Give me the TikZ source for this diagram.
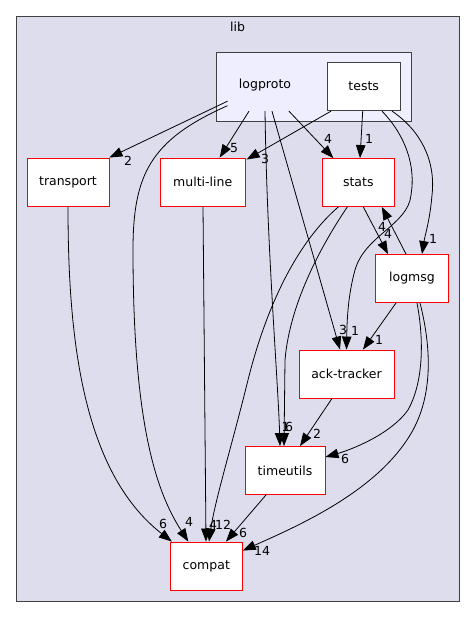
\documentclass[tikz,border=0pt]{standalone}
\usepackage{fontspec}
\setmainfont{DejaVu Sans}
\usetikzlibrary{arrows.meta,calc}
\definecolor{libfill}{HTML}{DDDDEE}
\definecolor{lpfill}{HTML}{EEEEFF}
\definecolor{frame}{HTML}{404040}
\begin{document}
\begin{tikzpicture}[x=1pt,y=-1pt,
  every node/.style={font=\fontsize{12.5}{15}\selectfont},
  dirbox/.style={draw=red, fill=white, line width=0.9pt, minimum height=48pt, inner sep=0pt},
  testbox/.style={draw=frame, fill=white, line width=0.9pt, minimum height=48pt, minimum width=73pt, inner sep=0pt},
  dep/.style={draw=black, line width=0.8pt, -{Triangle[length=13pt,width=9.5pt]}},
  lbl/.style={inner sep=0pt}]
\useasboundingbox (0,0) rectangle (475,617);
% clusters
\draw[frame, fill=libfill, line width=0.9pt] (16,16) rectangle (459,601);
\node[lbl] (libtitle) at (237.5,27) {lib};
\draw[frame, fill=lpfill, line width=0.9pt] (216,52) rectangle (411,121);
% nodes
\node[minimum width=80pt, minimum height=52pt, inner sep=0pt] (L) at (265,85) {logproto};
\node[testbox] (T) at (363.7,86.7) {tests};
\node[dirbox, minimum width=82pt] (TR) at (68,182) {transport};
\node[dirbox, minimum width=85pt] (ML) at (202.7,182) {multi-line};
\node[dirbox, minimum width=72pt] (ST) at (358.3,182.5) {stats};
\node[dirbox, minimum width=73pt] (LM) at (412,278.5) {logmsg};
\node[dirbox, minimum width=95pt] (AT) at (346.5,374) {ack-tracker};
\node[dirbox, minimum width=80pt] (TU) at (285,470.5) {timeutils};
\node[dirbox, minimum width=72pt] (CP) at (206.3,566) {compat};
% edges
\draw[dep] ($(L.south)+(-37.5,-10)$) -- (TR.north east);
\node[lbl] (l1) at (128,161) {2};
\draw[dep] ($(L.south)+(-37.5,-5.5)$) .. controls (150,140) and (133,175) .. (133,250) .. controls (133,420) and (155,490) .. ($(CP.north)+(-18,0)$);
\node[lbl] (l2) at (189,522) {4};
\draw[dep] ($(L.south)+(-16,0)$) -- ($(ML.north)+(17,0)$);
\node[lbl] (l3) at (234,148) {5};
\draw[dep] (L.south) .. controls (267,250) and (278,380) .. ($(TU.north)+(-5,0)$);
\node[lbl] (l4) at (285.5,427) {1};
\draw[dep] ($(L.south)+(7,0)$) -- ($(AT.north)+(-6.5,0)$);
\node[lbl] (l5) at (343,330) {3};
\draw[dep] ($(L.south)+(24,0)$) -- ($(ST.north)+(-25,0)$);
\node[lbl] (l6) at (328,139) {4};
\draw[dep] ($(T.south)+(-32.7,0)$) -- ($(ML.north east)+(1,2)$);
\node[lbl] (l7) at (265,159) {3};
\draw[dep] ($(T.south)+(-1,0)$) -- ($(ST.north)+(1.7,0)$);
\node[lbl] (l8) at (369,139) {1};
\draw[dep] ($(T.south)+(18.3,0)$) .. controls (405,135) and (416,165) .. (411,195) .. controls (408,225) and (365,235) .. (355,270) .. controls (348,295) and (347,320) .. (AT.north);
\node[lbl] (l9) at (355,331) {1};
\draw[dep] ($(T.south)+(28.3,0)$) .. controls (420,130) and (436,160) .. (432,195) .. controls (430,220) and (425,235) .. ($(LM.north)+(10,0)$);
\node[lbl] (l10) at (433,239) {1};
\draw[dep] ($(ST.south)+(5,0)$) -- ($(LM.north)+(-24,0)$);
\node[lbl] (l11) at (388,234) {4};
\draw[dep] ($(LM.north)+(-6,0)$) -- ($(ST.south)+(23.5,0)$);
\node[lbl] (l12) at (382,227) {4};
\draw[dep] ($(ST.south)+(-11,0)$) .. controls (325,240) and (290,300) .. (285,360) -- ($(TU.north)+(-1,0)$);
\node[lbl] (l13) at (289,427) {6};
\draw[dep] ($(ST.south)+(-20,0)$) .. controls (300,240) and (268,300) .. (248,380) .. controls (232,445) and (215,500) .. ($(CP.north)+(2.7,0)$);
\node[lbl] (l14) at (223,525) {12};
\draw[dep] ($(LM.south)+(-16,0)$) -- ($(AT.north)+(16.5,0)$);
\node[lbl] (l15) at (379,340) {1};
\draw[dep] ($(LM.south)+(5,0)$) .. controls (425,345) and (422,385) .. (408,410) .. controls (390,435) and (350,450) .. ($(TU.east)+(0,-13.5)$);
\node[lbl] (l16) at (345,459) {6};
\draw[dep] ($(LM.south)+(8,0)$) .. controls (432,350) and (432,395) .. (413,430) .. controls (380,490) and (300,525) .. ($(CP.north east)+(0,9)$);
\node[lbl] (l17) at (262,551) {14};
\draw[dep] (TR.south) .. controls (68,330) and (80,470) .. ($(CP.north west)+(2,0)$);
\node[lbl] (l18) at (163,524) {6};
\draw[dep] ($(ML.south)+(0.3,0)$) -- ($(CP.north)+(-0.3,0)$);
\node[lbl] (l19) at (213,525) {4};
\draw[dep] ($(AT.south)+(-14.5,0)$) -- ($(TU.north)+(15,0)$);
\node[lbl] (l20) at (317,434) {2};
\draw[dep] ($(TU.south)+(-19,0)$) -- ($(CP.north)+(19.7,0)$);
\node[lbl] (l21) at (243,533) {6};
\end{tikzpicture}
\end{document}
